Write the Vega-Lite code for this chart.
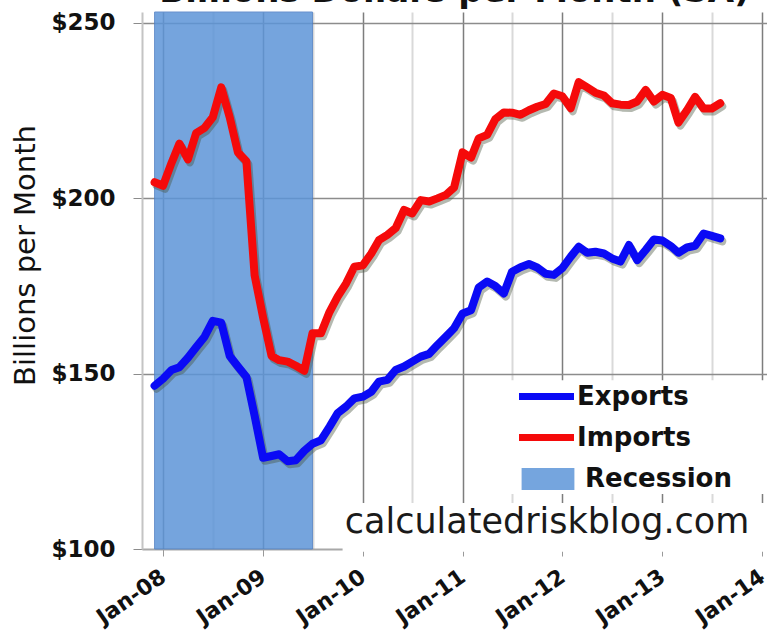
{
  "$schema": "https://vega.github.io/schema/vega-lite/v6.json",
  "width": 625,
  "height": 537,
  "autosize": {"type": "none"},
  "padding": {"left": 142, "top": 12, "right": 0, "bottom": 87},
  "background": "white",
  "title": {"text": "Billions Dollars per Month (SA)", "font": "DejaVu Sans", "fontSize": 34, "fontWeight": "bold", "color": "#111111", "anchor": "middle", "offset": 3},
  "config": {"view": {"stroke": null}, "font": "DejaVu Sans"},
  "data": {
    "format": {"parse": {"date": "utc:'%Y-%m-%d'"}},
    "values": [
      {"date": "2007-12-01", "Exports": 146.5, "Imports": 204.5},
      {"date": "2008-01-01", "Exports": 148.5, "Imports": 203.5},
      {"date": "2008-02-01", "Exports": 151.0, "Imports": 210.0},
      {"date": "2008-03-01", "Exports": 151.8, "Imports": 215.5},
      {"date": "2008-04-01", "Exports": 154.5, "Imports": 211.0},
      {"date": "2008-05-01", "Exports": 157.5, "Imports": 218.5},
      {"date": "2008-06-01", "Exports": 160.5, "Imports": 220.0},
      {"date": "2008-07-01", "Exports": 165.0, "Imports": 223.0},
      {"date": "2008-08-01", "Exports": 164.5, "Imports": 231.5},
      {"date": "2008-09-01", "Exports": 155.0, "Imports": 223.0},
      {"date": "2008-10-01", "Exports": 152.0, "Imports": 213.0},
      {"date": "2008-11-01", "Exports": 149.0, "Imports": 210.5},
      {"date": "2008-12-01", "Exports": 138.0, "Imports": 178.0},
      {"date": "2009-01-01", "Exports": 126.0, "Imports": 166.0},
      {"date": "2009-02-01", "Exports": 126.5, "Imports": 155.0},
      {"date": "2009-03-01", "Exports": 127.0, "Imports": 153.8},
      {"date": "2009-04-01", "Exports": 125.0, "Imports": 153.4},
      {"date": "2009-05-01", "Exports": 125.3, "Imports": 152.2},
      {"date": "2009-06-01", "Exports": 128.0, "Imports": 150.8},
      {"date": "2009-07-01", "Exports": 130.0, "Imports": 161.5},
      {"date": "2009-08-01", "Exports": 131.0, "Imports": 161.5},
      {"date": "2009-09-01", "Exports": 134.8, "Imports": 167.5},
      {"date": "2009-10-01", "Exports": 138.7, "Imports": 171.9},
      {"date": "2009-11-01", "Exports": 140.6, "Imports": 175.7},
      {"date": "2009-12-01", "Exports": 142.9, "Imports": 180.4},
      {"date": "2010-01-01", "Exports": 143.4, "Imports": 180.8},
      {"date": "2010-02-01", "Exports": 144.8, "Imports": 184.2},
      {"date": "2010-03-01", "Exports": 147.7, "Imports": 188.0},
      {"date": "2010-04-01", "Exports": 148.2, "Imports": 189.5},
      {"date": "2010-05-01", "Exports": 151.0, "Imports": 191.4},
      {"date": "2010-06-01", "Exports": 152.0, "Imports": 196.6},
      {"date": "2010-07-01", "Exports": 153.4, "Imports": 195.6},
      {"date": "2010-08-01", "Exports": 154.8, "Imports": 199.4},
      {"date": "2010-09-01", "Exports": 155.6, "Imports": 199.0},
      {"date": "2010-10-01", "Exports": 158.1, "Imports": 199.9},
      {"date": "2010-11-01", "Exports": 160.5, "Imports": 200.9},
      {"date": "2010-12-01", "Exports": 162.9, "Imports": 203.0},
      {"date": "2011-01-01", "Exports": 167.1, "Imports": 213.0},
      {"date": "2011-02-01", "Exports": 168.0, "Imports": 211.5},
      {"date": "2011-03-01", "Exports": 174.5, "Imports": 217.0},
      {"date": "2011-04-01", "Exports": 176.2, "Imports": 218.0},
      {"date": "2011-05-01", "Exports": 174.9, "Imports": 222.5},
      {"date": "2011-06-01", "Exports": 172.8, "Imports": 224.4},
      {"date": "2011-07-01", "Exports": 179.0, "Imports": 224.3},
      {"date": "2011-08-01", "Exports": 180.3, "Imports": 223.7},
      {"date": "2011-09-01", "Exports": 181.2, "Imports": 225.0},
      {"date": "2011-10-01", "Exports": 180.2, "Imports": 226.0},
      {"date": "2011-11-01", "Exports": 178.4, "Imports": 226.8},
      {"date": "2011-12-01", "Exports": 178.1, "Imports": 229.8},
      {"date": "2012-01-01", "Exports": 180.0, "Imports": 229.0},
      {"date": "2012-02-01", "Exports": 183.3, "Imports": 225.6},
      {"date": "2012-03-01", "Exports": 186.1, "Imports": 233.0},
      {"date": "2012-04-01", "Exports": 184.4, "Imports": 231.5},
      {"date": "2012-05-01", "Exports": 184.7, "Imports": 230.0},
      {"date": "2012-06-01", "Exports": 184.2, "Imports": 229.2},
      {"date": "2012-07-01", "Exports": 182.8, "Imports": 227.0},
      {"date": "2012-08-01", "Exports": 181.9, "Imports": 226.6},
      {"date": "2012-09-01", "Exports": 186.6, "Imports": 226.5},
      {"date": "2012-10-01", "Exports": 182.3, "Imports": 227.5},
      {"date": "2012-11-01", "Exports": 185.2, "Imports": 230.8},
      {"date": "2012-12-01", "Exports": 188.2, "Imports": 227.5},
      {"date": "2013-01-01", "Exports": 187.9, "Imports": 229.4},
      {"date": "2013-02-01", "Exports": 186.3, "Imports": 228.5},
      {"date": "2013-03-01", "Exports": 184.4, "Imports": 221.5},
      {"date": "2013-04-01", "Exports": 185.9, "Imports": 225.0},
      {"date": "2013-05-01", "Exports": 186.4, "Imports": 228.8},
      {"date": "2013-06-01", "Exports": 189.9, "Imports": 225.5},
      {"date": "2013-07-01", "Exports": 189.2, "Imports": 225.5},
      {"date": "2013-08-01", "Exports": 188.5, "Imports": 227.0}
    ]
  },
  "layer": [
    {
      "data": {
        "values": [{"start": "2007-12-01", "end": "2009-07-01", "label": "Recession"}],
        "format": {"parse": {"start": "utc:'%Y-%m-%d'", "end": "utc:'%Y-%m-%d'"}}
      },
      "mark": {"type": "rect", "opacity": 0.85, "stroke": "#4f7fc4", "strokeWidth": 1},
      "encoding": {
        "x": {"field": "start", "type": "temporal", "title": null},
        "x2": {"field": "end"},
        "fill": {
          "field": "label", "type": "nominal",
          "scale": {"domain": ["Recession"], "range": ["#5d95d8"]},
          "legend": {
            "title": null, "orient": "none", "legendX": 393, "legendY": 454, "padding": 0,
            "symbolType": "M-2.4,-1H2.4V1H-2.4Z", "symbolSize": 484, "symbolStrokeWidth": 0,
            "labelFont": "DejaVu Sans", "labelFontWeight": "bold", "labelFontSize": 26, "labelColor": "#111111", "labelOffset": 24
          }
        }
      }
    },
    {
      "data": {"values": [{}]},
      "mark": {"type": "rect", "fill": "white"},
      "encoding": {
        "x": {"datum": {"year": 2011, "month": 6, "date": 3, "utc": true}, "type": "temporal"},
        "x2": {"datum": {"year": 2014, "month": 3, "date": 1, "utc": true}},
        "y": {"datum": 115.7, "type": "quantitative"},
        "y2": {"datum": 148.1}
      }
    },
    {
      "data": {"values": [{}]},
      "mark": {"type": "rect", "fill": "white"},
      "encoding": {
        "x": {"datum": {"year": 2009, "month": 10, "date": 19, "utc": true}, "type": "temporal"},
        "x2": {"datum": {"year": 2014, "month": 3, "date": 1, "utc": true}},
        "y": {"datum": 99.2, "type": "quantitative"},
        "y2": {"datum": 113.1}
      }
    },
    {
      "transform": [{"fold": ["Exports", "Imports"], "as": ["series", "value"]}],
      "mark": {"type": "line", "stroke": "#44503a", "strokeWidth": 8, "opacity": 0.4, "xOffset": 2, "yOffset": 3, "strokeJoin": "round", "strokeCap": "round"},
      "encoding": {
        "x": {"field": "date", "type": "temporal"},
        "y": {"field": "value", "type": "quantitative"},
        "detail": {"field": "series", "type": "nominal"}
      }
    },
    {
      "transform": [{"fold": ["Exports", "Imports"], "as": ["series", "value"]}],
      "mark": {"type": "line", "strokeWidth": 8, "strokeJoin": "round", "strokeCap": "round"},
      "encoding": {
        "x": {
          "field": "date", "type": "temporal", "title": null,
          "scale": {"type": "utc", "domain": [{"year": 2007, "month": 10, "date": 16, "utc": true}, {"year": 2014, "month": 1, "date": 19, "utc": true}]},
          "axis": {
            "values": [
              {"year": 2008, "month": 1, "date": 1, "utc": true}, {"year": 2008, "month": 4, "date": 1, "utc": true}, {"year": 2008, "month": 7, "date": 1, "utc": true}, {"year": 2008, "month": 10, "date": 1, "utc": true},
              {"year": 2009, "month": 1, "date": 1, "utc": true}, {"year": 2009, "month": 4, "date": 1, "utc": true}, {"year": 2009, "month": 7, "date": 1, "utc": true}, {"year": 2009, "month": 10, "date": 1, "utc": true},
              {"year": 2010, "month": 1, "date": 1, "utc": true}, {"year": 2010, "month": 4, "date": 1, "utc": true}, {"year": 2010, "month": 7, "date": 1, "utc": true}, {"year": 2010, "month": 10, "date": 1, "utc": true},
              {"year": 2011, "month": 1, "date": 1, "utc": true}, {"year": 2011, "month": 4, "date": 1, "utc": true}, {"year": 2011, "month": 7, "date": 1, "utc": true}, {"year": 2011, "month": 10, "date": 1, "utc": true},
              {"year": 2012, "month": 1, "date": 1, "utc": true}, {"year": 2012, "month": 4, "date": 1, "utc": true}, {"year": 2012, "month": 7, "date": 1, "utc": true}, {"year": 2012, "month": 10, "date": 1, "utc": true},
              {"year": 2013, "month": 1, "date": 1, "utc": true}, {"year": 2013, "month": 4, "date": 1, "utc": true}, {"year": 2013, "month": 7, "date": 1, "utc": true}, {"year": 2013, "month": 10, "date": 1, "utc": true},
              {"year": 2014, "month": 1, "date": 1, "utc": true}
            ],
            "labelExpr": "utcmonth(datum.value) === 0 ? utcFormat(datum.value, '%b-%y') : ''",
            "labelAngle": -35, "labelAlign": "right", "labelBaseline": "middle",
            "labelFont": "DejaVu Sans", "labelFontWeight": "bold", "labelFontSize": 22, "labelColor": "#111111",
            "labelPadding": 18, "labelDx": -7, "labelOverlap": false, "labelBound": false,
            "tickSize": 7, "tickColor": "#999999",
            "tickOpacity": {"condition": {"test": "utcmonth(datum.value) === 0", "value": 1}, "value": 0},
            "domainColor": "#a8a8a8", "domainWidth": 1.5,
            "grid": true,
            "gridColor": {"condition": {"test": "utcmonth(datum.value) === 0", "value": "#7d7d7d"}, "value": "#d9d9d9"},
            "gridWidth": {"condition": {"test": "utcmonth(datum.value) === 0", "value": 1.5}, "value": 2}
          }
        },
        "y": {
          "field": "value", "type": "quantitative", "title": "Billions per Month",
          "scale": {"domain": [100, 253], "nice": false, "zero": false},
          "axis": {
            "values": [100, 150, 200, 250], "format": "$.0f",
            "labelFont": "DejaVu Sans", "labelFontWeight": "bold", "labelFontSize": 23, "labelColor": "#111111",
            "labelPadding": 18, "tickSize": 9, "tickColor": "#8c8c8c",
            "domainColor": "#c4c4c4", "domainWidth": 2,
            "grid": true, "gridColor": "#8c8c8c", "gridWidth": 1.5,
            "titleFont": "DejaVu Sans", "titleFontSize": 29, "titleFontWeight": "normal", "titleColor": "#111111",
            "titleX": -117, "titleY": 243, "titleAngle": -90, "titleAlign": "center", "titleBaseline": "middle"
          }
        },
        "stroke": {
          "field": "series", "type": "nominal",
          "scale": {"domain": ["Exports", "Imports"], "range": ["#0a0af5", "#f50a0a"]},
          "legend": {
            "title": null, "orient": "none", "legendX": 390, "legendY": 370, "padding": 0,
            "symbolType": "M-2.5,0H2.5", "symbolSize": 484, "symbolStrokeWidth": 7,
            "labelFont": "DejaVu Sans", "labelFontWeight": "bold", "labelFontSize": 26, "labelColor": "#111111",
            "labelOffset": 16, "rowPadding": 12
          }
        }
      }
    },
    {
      "data": {"values": [{"label": "calculatedriskblog.com"}]},
      "mark": {"type": "text", "font": "DejaVu Sans", "fontSize": 35, "color": "#1a1a1a", "align": "center", "baseline": "alphabetic"},
      "encoding": {
        "x": {"datum": {"year": 2011, "month": 11, "date": 6, "utc": true}, "type": "temporal"},
        "y": {"datum": 104.6, "type": "quantitative"},
        "text": {"field": "label", "type": "nominal"}
      }
    }
  ]
}
